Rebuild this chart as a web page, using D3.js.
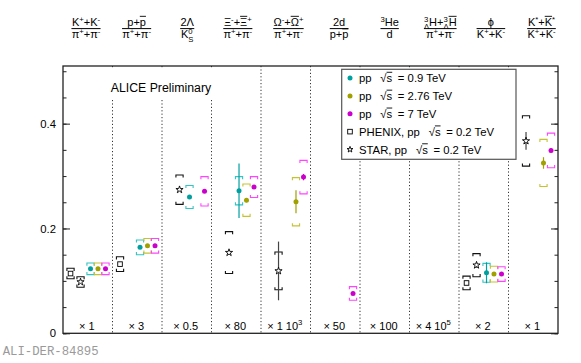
<!DOCTYPE html>
<html lang="en">
<head>
<meta charset="UTF-8">
<title>Particle ratios in pp collisions</title>
<script src="https://cdn.jsdelivr.net/npm/d3@7"></script>
<style>
  body { margin: 0; background: #fff; }
  svg { display: block; font-family: "Liberation Sans", Arial, Helvetica, sans-serif; }
</style>
</head>
<body>
<svg width="581" height="363"></svg>
<script>
// ratio columns
const categories = ["K/pi", "p/pi", "Lambda/K0S", "Xi/pi", "Omega/pi", "d/p", "He3/d", "H3L/pi", "phi/K", "Kstar/K"];
const headerNum = ["K^{+}+K^{-}", "p+#bar{p}", "2#Lambda", "#Xi^{-}+#bar{#Xi}^{+}", "#Omega^{-}+#bar{#Omega}^{+}",
                   "2d", "^{3}He", "^{3}_{#Lambda}H+^{3}_{#Lambda}#bar{H}", "#phi", "K^{*}+#bar{K}^{*}"];
const headerDen = ["#pi^{+}+#pi^{-}", "#pi^{+}+#pi^{-}", "K^{0}_{S}", "#pi^{+}+#pi^{-}", "#pi^{+}+#pi^{-}",
                   "p+#bar{p}", "d", "#pi^{+}+#pi^{-}", "K^{+}+K^{-}", "K^{+}+K^{-}"];
const scaleLabels = ["× 1", "× 3", "× 0.5", "× 80", "× 1 10^{3}", "× 50", "× 100", "× 4 10^{5}", "× 2", "× 1"];

// series (values already multiplied by the column factor)
const seriesKeys = ["PHENIX", "STAR", "0.9", "2.76", "7"];
const legendOrder = ["0.9", "2.76", "7", "PHENIX", "STAR"];
const legendLabels = ["pp \u2002√#bar{s}\u2002= 0.9 TeV", "pp \u2002√#bar{s}\u2002= 2.76 TeV", "pp \u2002√#bar{s}\u2002= 7 TeV",
                      "PHENIX, pp \u2002√#bar{s}\u2002= 0.2 TeV", "STAR, pp \u2002√#bar{s}\u2002= 0.2 TeV"];

const phenixVal  = [0.114, 0.132, null, null, null, null, null, null, 0.096, null];
const phenixSys  = [0.010, 0.014, null, null, null, null, null, null, 0.013, null];
const phenixStat = [0, 0, null, null, null, null, null, null, 0, null];

const starVal  = [0.098, null, 0.274, 0.154, 0.119, null, null, null, 0.130, 0.367];
const starSys  = [0.010, null, 0.028, 0.040, 0.036, null, null, null, 0.022, 0.048];
const starStat = [0, null, 0, 0, 0.056, null, null, null, 0.005, 0.017];

const pp09Val  = [0.123, 0.164, 0.260, 0.272, null, null, null, null, 0.1155, null];
const pp09Sys  = [0.011, 0.014, 0.022, 0.027, null, null, null, null, 0.018, null];
const pp09Stat = [0.002, 0.002, 0.003, 0.052, null, null, null, null, 0.020, null];

const pp276Val  = [0.123, 0.167, null, 0.254, 0.251, null, null, null, 0.113, 0.325];
const pp276Sys  = [0.011, 0.014, null, 0.031, 0.046, null, null, null, 0.015, 0.045];
const pp276Stat = [0.002, 0.002, null, 0.004, 0.022, null, null, null, 0.003, 0.011];

const pp7Val  = [0.123, 0.167, 0.271, 0.279, 0.298, 0.076, null, null, 0.113, 0.349];
const pp7Sys  = [0.011, 0.014, 0.028, 0.020, 0.032, 0.013, null, null, 0.014, 0.033];
const pp7Stat = [0.001, 0.001, 0.002, 0.003, 0.006, 0.003, null, null, 0.002, 0.004];

const seriesData = {
  "PHENIX": [phenixVal, phenixSys, phenixStat],
  "STAR":   [starVal, starSys, starStat],
  "0.9":    [pp09Val, pp09Sys, pp09Stat],
  "2.76":   [pp276Val, pp276Sys, pp276Stat],
  "7":      [pp7Val, pp7Sys, pp7Stat]
};

const markColor = d3.scaleOrdinal().domain(seriesKeys).range(["#000", "#000", "#00a0a0", "#a0a000", "#cc00cc"]);
const boxColor  = d3.scaleOrdinal().domain(seriesKeys).range(["#111", "#111", "#33c4c4", "#c4c432", "#ff44ff"]);
const symType   = d3.scaleOrdinal().domain(seriesKeys).range(["square", "star", "dot", "dot", "dot"]);

const svg = d3.select("svg");
const L = 63, R = 558, T = 66, B = 333.3;

const x = d3.scaleBand().domain(categories).range([L, R]);
const inBand = d3.scaleOrdinal().domain(seriesKeys).range([0.152, 0.354, 0.556, 0.707, 0.859]);
const y = d3.scaleLinear().domain([0, 0.51]).range([B, T]);
const hx = d3.scalePoint().domain(categories).range([86, 541.5]);

// text with ^{} _{} #bar{} markup
function rich(text, str, fs) {
  str = str.replace(/#pi/g, "π").replace(/#Lambda/g, "Λ").replace(/#Xi/g, "Ξ")
           .replace(/#Omega/g, "Ω").replace(/#phi/g, "ϕ");
  const re = /\^\{([^}]*)\}|_\{([^}]*)\}|#bar\{([^}]*)\}|([^\^_#]+)/g;
  let m, shift = 0, pend = 0, supW = 0, prevSup = false, idx = 0;
  const bars = [];
  while ((m = re.exec(str))) {
    let t, s = 0, small = false;
    if (m[1] !== undefined) { t = m[1]; s = -0.38 * fs; small = true; }
    else if (m[2] !== undefined) { t = m[2]; s = 0.32 * fs; small = true; }
    else if (m[3] !== undefined) { t = m[3]; bars.push([idx, idx + t.length - 1]); }
    else t = m[4];
    const ts = text.append("tspan").attr("dy", s - shift).text(t);
    shift = s;
    if (small) ts.attr("font-size", fs * 0.7);
    let dx = pend; pend = 0;
    const stacked = m[2] !== undefined && prevSup;
    if (stacked) dx -= supW;
    if (dx) ts.attr("dx", dx);
    const w = ts.node().getComputedTextLength();
    if (stacked && w < supW) pend = supW - w;
    prevSup = m[1] !== undefined;
    supW = prevSup ? w : 0;
    idx += t.length;
  }
  const node = text.node(), y0 = +text.attr("y");
  const g = d3.select(node.parentNode);
  bars.forEach(([a, b]) => {
    const x1 = node.getStartPositionOfChar(a).x, x2 = node.getEndPositionOfChar(b).x;
    g.append("line").attr("x1", x1).attr("x2", x2)
      .attr("y1", y0 - fs * 0.86).attr("y2", y0 - fs * 0.86)
      .attr("stroke", text.attr("fill") || "#000").attr("stroke-width", 0.9);
  });
  return text;
}

// dotted column separators
svg.append("g").selectAll("line").data(categories.slice(1)).join("line")
  .attr("x1", d => x(d)).attr("x2", d => x(d)).attr("y1", T).attr("y2", B)
  .attr("stroke", "#333").attr("stroke-width", 1).attr("stroke-dasharray", "1.2,2.2");

// frame
svg.append("rect").attr("x", L).attr("y", T).attr("width", R - L).attr("height", B - T)
  .attr("fill", "none").attr("stroke", "#222").attr("stroke-width", 1.3);

// y ticks, inward on both sides
const minor = d3.range(0, 0.5001, 0.05), major = [0, 0.2, 0.4];
svg.append("g").attr("transform", `translate(${L},0)`)
  .call(d3.axisRight(y).tickValues(minor).tickSize(3.5).tickFormat("").tickSizeOuter(0))
  .call(g => g.select(".domain").remove());
svg.append("g").attr("transform", `translate(${L},0)`)
  .call(d3.axisRight(y).tickValues(major).tickSize(7).tickFormat("").tickSizeOuter(0))
  .call(g => g.select(".domain").remove());
svg.append("g").attr("transform", `translate(${R},0)`)
  .call(d3.axisLeft(y).tickValues(minor).tickSize(3.5).tickFormat("").tickSizeOuter(0))
  .call(g => g.select(".domain").remove());
svg.append("g").attr("transform", `translate(${R},0)`)
  .call(d3.axisLeft(y).tickValues(major).tickSize(7).tickFormat("").tickSizeOuter(0))
  .call(g => g.select(".domain").remove());
svg.selectAll(".tick line").attr("stroke", "#222");
svg.append("g").attr("transform", `translate(${L},0)`)
  .call(d3.axisLeft(y).tickValues(major).tickSize(0).tickPadding(7).tickFormat(d3.format("")))
  .call(g => g.select(".domain").remove())
  .call(g => g.selectAll("text").attr("font-size", 11.3).attr("fill", "#000")
    .attr("font-family", "Liberation Sans, Arial, sans-serif"));

// column headers (fractions)
categories.forEach((c, i) => {
  const g = svg.append("g");
  const fs = 11;
  const num = rich(g.append("text").attr("x", hx(c)).attr("y", 25.8).attr("text-anchor", "middle")
    .attr("font-size", fs).attr("fill", "#000"), headerNum[i], fs);
  const den = rich(g.append("text").attr("x", hx(c)).attr("y", 38.3).attr("text-anchor", "middle")
    .attr("font-size", fs).attr("fill", "#000"), headerDen[i], fs);
  const w = Math.max(num.node().getBBox().width, den.node().getBBox().width);
  g.append("line").attr("x1", hx(c) - w / 2).attr("x2", hx(c) + w / 2)
    .attr("y1", 28.6).attr("y2", 28.6).attr("stroke", "#000").attr("stroke-width", 1);
});

// scale factors at the bottom
categories.forEach((c, i) => {
  const g = svg.append("g");
  rich(g.append("text").attr("x", x(c) + x.bandwidth() / 2 - 1).attr("y", 329.5)
    .attr("text-anchor", "middle").attr("font-size", 11).attr("fill", "#000"), scaleLabels[i], 11);
});

// ALICE Preliminary label box
svg.append("rect").attr("x", 107).attr("y", 68).attr("width", 109).attr("height", 32).attr("fill", "#fff");
svg.append("text").attr("x", 110.7).attr("y", 92).attr("font-size", 12.3).attr("fill", "#000")
  .text("ALICE Preliminary");

// data
const bw = 3.6, bt = 2.6;
seriesKeys.forEach(k => {
  const [vals, sys, stat] = seriesData[k];
  const pts = categories.map((c, i) => ({c, v: vals[i], s: sys[i], e: stat[i]})).filter(d => d.v !== null);
  const g = svg.append("g");
  const px = d => x(d.c) + inBand(k) * x.bandwidth();
  g.selectAll("path.sys").data(pts).join("path").attr("class", "sys")
    .attr("d", d => {
      const cx = px(d), y1 = y(d.v + d.s), y2 = y(d.v - d.s);
      return `M${cx - bw},${y1 + bt}V${y1}H${cx + bw}V${y1 + bt}` +
             `M${cx - bw},${y2 - bt}V${y2}H${cx + bw}V${y2 - bt}`;
    })
    .attr("fill", "none").attr("stroke", boxColor(k)).attr("stroke-width", 1.1);
  g.selectAll("line.stat").data(pts.filter(d => d.e > 0)).join("line").attr("class", "stat")
    .attr("x1", px).attr("x2", px).attr("y1", d => y(d.v + d.e)).attr("y2", d => y(d.v - d.e))
    .attr("stroke", k === "STAR" ? "#444" : markColor(k)).attr("stroke-width", 1.2);
  drawMarker(g, k, pts.map(d => [px(d), y(d.v)]), 16);
});

function drawMarker(g, k, xy, starSize) {
  const t = symType(k);
  if (t === "dot") {
    g.selectAll("circle.m").data(xy).join("circle").attr("class", "m")
      .attr("cx", d => d[0]).attr("cy", d => d[1]).attr("r", 2.5).attr("fill", markColor(k));
  } else if (t === "square") {
    g.selectAll("rect.m").data(xy).join("rect").attr("class", "m")
      .attr("x", d => d[0] - 2.3).attr("y", d => d[1] - 2.3).attr("width", 4.6).attr("height", 4.6)
      .attr("fill", "#fff").attr("stroke", "#000").attr("stroke-width", 0.9);
  } else {
    g.selectAll("path.m").data(xy).join("path").attr("class", "m")
      .attr("transform", d => `translate(${d[0]},${d[1]})`)
      .attr("d", d3.symbol(d3.symbolStar, starSize))
      .attr("fill", "#fff").attr("stroke", "#000").attr("stroke-width", 0.9);
  }
}

// legend
const lg = svg.append("g");
lg.append("rect").attr("x", 341.7).attr("y", 69.3).attr("width", 174.3).attr("height", 90)
  .attr("fill", "#fff").attr("stroke", "#555").attr("stroke-width", 1.2);
const ly = d3.scaleLinear().domain([0, 4]).range([78, 149.5]);
legendOrder.forEach((k, i) => {
  drawMarker(lg.append("g"), k, [[350, ly(i)]], 11);
  const gg = lg.append("g");
  rich(gg.append("text").attr("x", 359).attr("y", ly(i) + 4).attr("font-size", 11.3).attr("fill", "#000"),
    legendLabels[i], 11.3);
});

// figure id
svg.append("text").attr("x", 2.7).attr("y", 354.5).attr("font-family", "Liberation Mono, Courier New, monospace")
  .attr("font-size", 12.3).attr("fill", "#9a9a9a").text("ALI-DER-84895");
</script>
</body>
</html>
